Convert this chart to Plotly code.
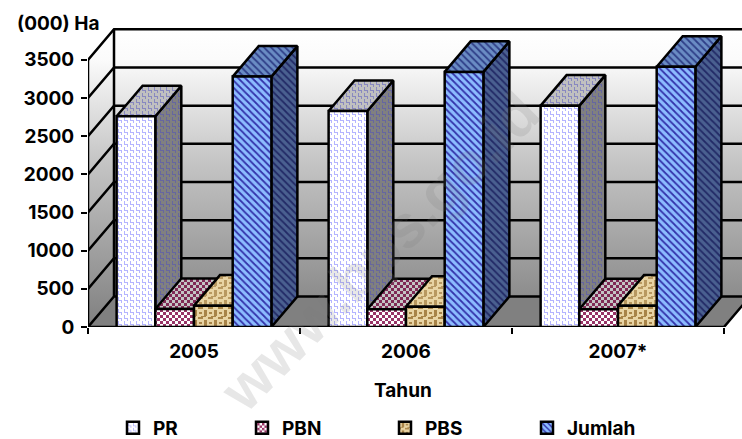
import plotly.graph_objects as go

years = ["2005", "2006", "2007*"]
series_names = ["PR", "PBN", "PBS", "Jumlah"]
PR = [2760, 2830, 2900]
PBN = [236, 232, 232]
PBS = [280, 266, 280]
Jumlah = [3280, 3342, 3410]
all_values = [PR, PBN, PBS, Jumlah]
y_ticks = [0, 500, 1000, 1500, 2000, 2500, 3000, 3500]

# Layout geometry
W, H = 742, 439
LEFT, BASE, PX_CAT, PX_UNIT = 88, 327, 212.0, 0.0763
DEPTH_X = 26 / PX_CAT
DEPTH_Y = 400
BARGAP = 0.27
BAR_W = (1 - BARGAP) / 4
X0 = -0.5
X1 = X0 + (W - LEFT) / PX_CAT
YTOP = 3930
TOPM = BASE - YTOP * PX_UNIT
FONT = dict(family="Inter", size=19, color="black", weight=700)
LEGEND_X = [113, 242, 385, 527]

# Pattern tiles
BRICK = "M0,0H1V4H0Z M0,3H4V4H0Z M3,3H4V7H3Z M3,6H7V7H3Z M6,0H7V7H6Z"
CHECK = "M0,0H3V3H0Z M3,3H6V6H3Z"
WEAVE = "M0,0H5V2H0Z M6,3H9V9H6Z M1,5H4V7H1Z M3,9H8V10H3Z"


def pat(fg, bg, **kw):
    return dict(fgcolor=fg, bgcolor=bg, fgopacity=1, **kw)


front = [
    pat("#b4b4ff", "#ffffff", path=BRICK, size=6),
    pat("#993366", "#ffffff", path=CHECK, size=6),
    pat("#a88448", "#e8d4a4", path=WEAVE, size=10),
    pat("#3333aa", "#8cbcff", shape="\\", size=5, solidity=0.35),
]
side = [
    pat("#6666a0", "#808080", path=BRICK, size=6),
    pat("#6b2348", "#808080", path=CHECK, size=6),
    pat("#7a6038", "#a08a60", path=WEAVE, size=10),
    pat("#222a66", "#4a6090", shape="\\", size=5, solidity=0.35),
]
top = [
    pat("#8888c0", "#c0c0c0", path=BRICK, size=6),
    pat("#802a55", "#c4c4c4", path=CHECK, size=6),
    pat("#b89860", "#e8d4a4", path=WEAVE, size=10),
    pat("#2f3f88", "#6a8cc4", shape="\\", size=5, solidity=0.35),
]
LINE = dict(color="black", width=2.5)

fig = go.Figure()

# Walls and floor
wall_grad = dict(type="vertical", start=0, stop=3900,
                 colorscale=[[0, "#808080"], [0.13, "#909090"], [0.55, "#c4c4c4"], [0.9, "#fbfbfb"], [1, "#ffffff"]])
fig.add_trace(go.Scatter(
    x=[X0 + DEPTH_X, X1 + 1, X1 + 1, X0 + DEPTH_X, X0 + DEPTH_X],
    y=[DEPTH_Y, DEPTH_Y, DEPTH_Y + 3500, DEPTH_Y + 3500, DEPTH_Y],
    mode="none", fill="toself", fillgradient=wall_grad, showlegend=False, hoverinfo="skip"))
fig.add_trace(go.Scatter(
    x=[X0, X0 + DEPTH_X, X0 + DEPTH_X, X0, X0],
    y=[0, DEPTH_Y, DEPTH_Y + 3500, 3500, 0],
    mode="none", fill="toself", fillgradient=wall_grad, showlegend=False, hoverinfo="skip"))
n_cat = len(years)
fig.add_trace(go.Scatter(
    x=[X0, X0 + n_cat, X0 + n_cat + DEPTH_X, X0 + DEPTH_X, X0],
    y=[0, 0, DEPTH_Y, DEPTH_Y, 0],
    mode="none", fill="toself", fillcolor="#808080", showlegend=False, hoverinfo="skip"))

# Grid lines on both walls
gx, gy = [], []
for v in y_ticks:
    gx += [X0, X0 + DEPTH_X, X1 + 1, None]
    gy += [v, v + DEPTH_Y, v + DEPTH_Y, None]
gx += [X0 + DEPTH_X, X0 + DEPTH_X, None, X0, X0, None, X0, X0 + n_cat, X0 + n_cat + DEPTH_X, X1 + 1]
gy += [DEPTH_Y, DEPTH_Y + 3500, None, 0, 3500, None, 0, 0, DEPTH_Y, DEPTH_Y]
fig.add_trace(go.Scatter(x=gx, y=gy, mode="lines", line=LINE, showlegend=False,
                         hoverinfo="skip", cliponaxis=False, connectgaps=False))

# Sides and tops of the bars
for i in range(n_cat):
    for j, vals in enumerate(all_values):
        v = vals[i]
        left = i + (j - 2) * BAR_W
        right = left + BAR_W
        fig.add_trace(go.Scatter(
            x=[right, right + DEPTH_X, right + DEPTH_X, right, right],
            y=[0, DEPTH_Y, v + DEPTH_Y, v, 0],
            mode="lines", line=LINE, fill="toself", fillcolor=side[j]["bgcolor"], fillpattern=side[j],
            showlegend=False, hoverinfo="skip"))
        fig.add_trace(go.Scatter(
            x=[left, right, right + DEPTH_X, left + DEPTH_X, left],
            y=[v, v, v + DEPTH_Y, v + DEPTH_Y, v],
            mode="lines", line=LINE, fill="toself", fillcolor=top[j]["bgcolor"], fillpattern=top[j],
            showlegend=False, hoverinfo="skip"))

# Front faces, each with its own legend so the entries can be placed unevenly
legend_ids = ["legend", "legend2", "legend3", "legend4"]
for j, vals in enumerate(all_values):
    fig.add_trace(go.Bar(
        x=years, y=vals, name=series_names[j], xaxis="x2", yaxis="y2", legend=legend_ids[j],
        marker=dict(color=front[j]["bgcolor"], pattern=front[j], line=LINE),
        cliponaxis=False))

PLOT_H = BASE - TOPM
legends = {
    lid: dict(orientation="h", xref="container", yref="container", x=LEGEND_X[k] / W,
              y=1 - 428 / H, xanchor="left", yanchor="middle",
              font=dict(family="Inter", size=19, color="black", weight=700),
              bgcolor="rgba(0,0,0,0)", itemclick=False, itemdoubleclick=False)
    for k, lid in enumerate(legend_ids)
}


def px(x):
    return (x - LEFT) / (W - LEFT)


def py(y):
    return (BASE - y) / PLOT_H


fig.update_layout(
    width=W, height=H,
    margin=dict(l=LEFT, r=0, t=TOPM, b=H - BASE, pad=0, autoexpand=False),
    paper_bgcolor="white", plot_bgcolor="white",
    barmode="group", bargap=BARGAP, bargroupgap=0,
    font=FONT,
    xaxis=dict(range=[X0, X1], visible=False, fixedrange=True),
    yaxis=dict(range=[0, YTOP], tickvals=y_ticks, ticks="outside", ticklen=6, tickwidth=2,
               tickcolor="black", showgrid=False, zeroline=False, showline=False, tickfont=FONT,
               ticklabelstandoff=3),
    xaxis2=dict(type="category", overlaying="x", anchor="y2", side="bottom",
                range=[X0, X1], tickson="boundaries", ticks="outside", ticklen=6, tickwidth=2,
                tickcolor="black", showgrid=False, zeroline=False, showline=False, tickfont=FONT,
                ticklabelstandoff=11),
    yaxis2=dict(range=[0, YTOP], overlaying="y", anchor="x2", visible=False),
    annotations=[
        dict(text="(000) Ha", xref="paper", yref="paper", x=px(102), y=py(24),
             xanchor="right", yanchor="middle", showarrow=False, font=FONT),
        dict(text="Tahun", xref="paper", yref="paper", x=px(403), y=py(390),
             xanchor="center", yanchor="middle", showarrow=False, font=FONT),
        dict(text="www.bps.go.id", xref="paper", yref="paper", x=px(380), y=py(252),
             xanchor="center", yanchor="middle", showarrow=False, textangle=-45,
             font=dict(family="Liberation Sans", size=60, color="rgba(120,120,120,0.18)", weight="bold")),
    ],
    **legends,
)
fig.write_html("out.html", config=dict(displayModeBar=False),
               post_script="document.body.style.margin='0';document.documentElement.style.overflow='hidden';")
